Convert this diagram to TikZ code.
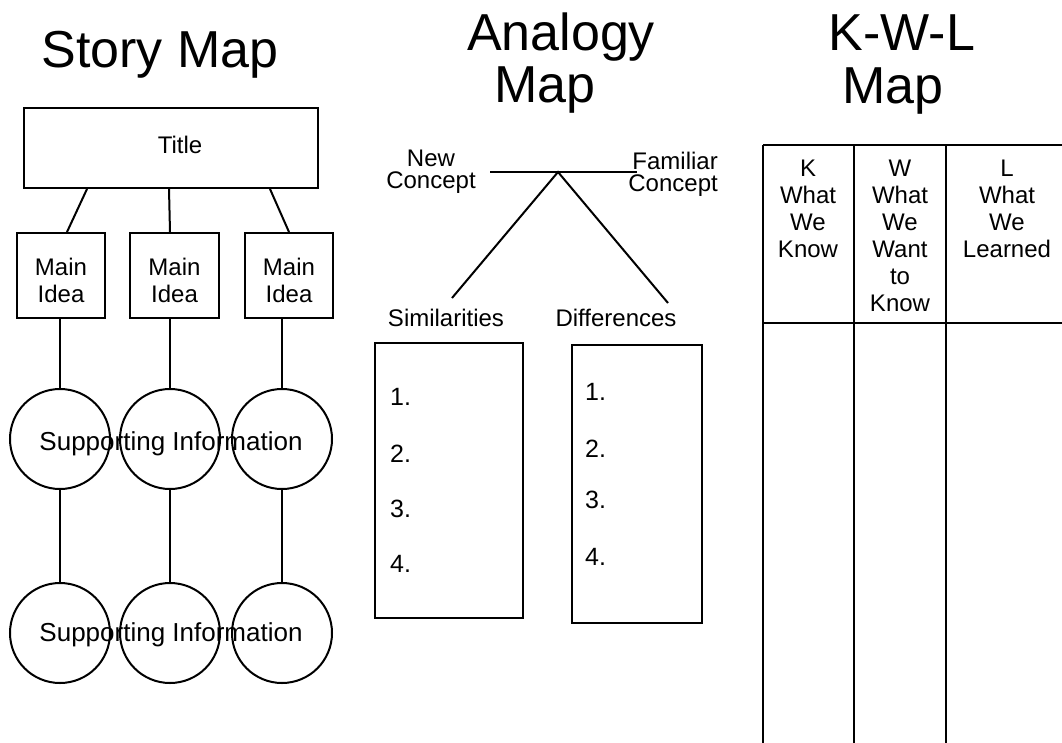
\documentclass[tikz,border=0pt]{standalone}
\usepackage{fontspec}
\setmainfont{Liberation Sans}
\usetikzlibrary{calc}
\begin{document}
\begin{tikzpicture}[x=1pt,y=-1pt,
  ink/.style={line width=2pt},
  heading/.style={font=\fontsize{52}{52}\selectfont, anchor=base, inner sep=0},
  lbl/.style={font=\fontsize{24}{27}\selectfont, anchor=base, inner sep=0, align=center},
  num/.style={font=\fontsize{25}{27}\selectfont, anchor=base west, inner sep=0},
  boxnode/.style={draw, ink, inner sep=0},
  bubble/.style={draw, ink, circle, minimum size=100pt, inner sep=0},
  grid/.style={line width=2.8pt}
]
\useasboundingbox (0,0) rectangle (1062,742);
\clip (0,0) rectangle (1062,742);

% ---------- Story Map ----------
\node[heading] (storyhead) at (160,67) {Story Map};
\node[boxnode, minimum width=294pt, minimum height=80pt] (title) at (171,148) {};
\node[lbl] (titletext) at (180,153) {Title};
\node[boxnode, minimum width=88pt, minimum height=85pt] (m1) at (61,275.5) {};
\node[boxnode, minimum width=89pt, minimum height=85pt] (m2) at (174.5,275.5) {};
\node[boxnode, minimum width=88pt, minimum height=85pt] (m3) at (289,275.5) {};
% multi-line nodes: the base anchor sits on the last line
\node[lbl] (m1text) at (61,302) {Main\\Idea};
\node[lbl] (m2text) at (174.5,302) {Main\\Idea};
\node[lbl] (m3text) at (289,302) {Main\\Idea};

\node[bubble] (c11) at (60,439) {};
\node[bubble] (c12) at (170,439) {};
\node[bubble] (c13) at (282,439) {};
\node[bubble] (c21) at (60,633) {};
\node[bubble] (c22) at (170,633) {};
\node[bubble] (c23) at (282,633) {};

\node[font=\fontsize{26}{28}\selectfont, inner sep=0] (sup1) at (171,444) {Supporting Information};
\node[font=\fontsize{26}{28}\selectfont, inner sep=0] (sup2) at (171,635) {Supporting Information};

\draw[ink] ($(title.south west)+(64,0)$) -- ($(m1.north west)+(51,0)$);
\draw[ink] ($(title.south west)+(146,0)$) -- ($(m2.north)+(-4.5,0)$);
\draw[ink] ($(title.south west)+(247,0)$) -- ($(m3.north west)+(45,0)$);

\draw[ink] (c11.north |- m1.south) -- (c11.north);
\draw[ink] (c12.north |- m2.south) -- (c12.north);
\draw[ink] (c13.north |- m3.south) -- (c13.north);
\draw[ink] (c11.south) -- (c21.north);
\draw[ink] (c12.south) -- (c22.north);
\draw[ink] (c13.south) -- (c23.north);

% ---------- Analogy Map ----------
\node[heading] (anahead) at (561,50) {Analogy};
\node[heading] (anamap) at (545,102) {Map};

\node[lbl, font=\fontsize{24}{22}\selectfont] (newc) at (431,188) {New\\Concept};
\node[lbl, font=\fontsize{24}{22}\selectfont, anchor=base east, align=right] (famc) at (718,191) {Familiar\\Concept};

\coordinate (hl) at (490,172);
\coordinate (hr) at (637,172);
\coordinate (apex) at (558,172);
\coordinate (legl) at (452,298);
\coordinate (legr) at (668,303);
\draw[ink] (hl) -- (hr);
\draw[ink] (legl) -- (apex) -- (legr);

\node[lbl] (sim) at (446,326) {Similarities};
\node[lbl] (dif) at (616,326) {Differences};

\node[boxnode, minimum width=148pt, minimum height=275pt] (simbox) at (449,480.5) {};
\node[boxnode, minimum width=130pt, minimum height=278pt] (difbox) at (637,484) {};

\node[num] (s1) at (390,405) {1.};
\node[num] (s2) at (390,462) {2.};
\node[num] (s3) at (390,517) {3.};
\node[num] (s4) at (390,572) {4.};
\node[num] (d1) at (585,400) {1.};
\node[num] (d2) at (585,457) {2.};
\node[num] (d3) at (585,508) {3.};
\node[num] (d4) at (585,565) {4.};

% ---------- K-W-L Map ----------
\node[heading] (kwlhead) at (902,50) {K-W-L};
\node[heading] (kwlmap) at (893,103) {Map};

\draw[grid] (763,145) -- (1070,145);
\draw[grid] (763,323) -- (1070,323);
\draw[grid] (763,145) -- (763,750);
\draw[grid] (854,145) -- (854,750);
\draw[grid] (946,145) -- (946,750);
\draw[grid] (1068,145) -- (1068,750);

\node[lbl] (colk) at (808,257) {K\\What\\We\\Know};
\node[lbl] (colw) at (900,311) {W\\What\\We\\Want\\to\\Know};
\node[lbl] (coll) at (1007,257) {L\\What\\We\\Learned};
\end{tikzpicture}
\end{document}
